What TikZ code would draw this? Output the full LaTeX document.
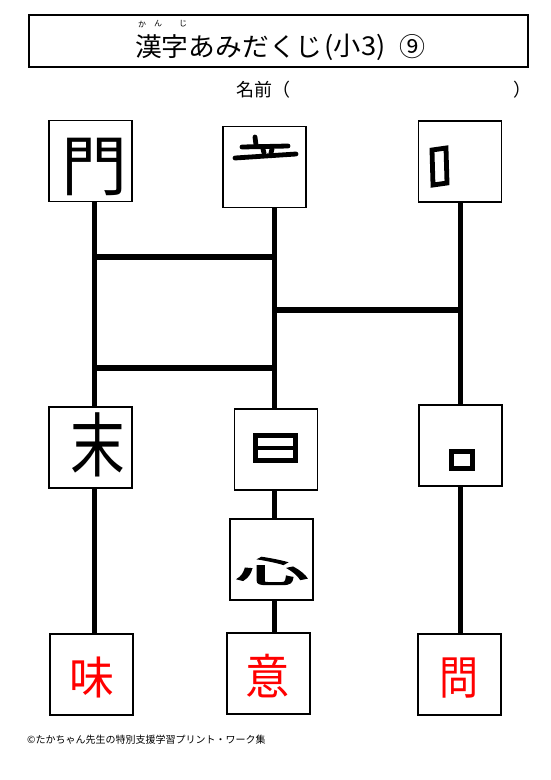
\documentclass[tikz,border=0pt]{standalone}
\usepackage{fontspec}
\setmainfont{Noto Sans CJK JP}
\newfontfamily\jp{Noto Sans CJK JP}
\newfontfamily\jpb[FakeBold=3.5]{Noto Sans CJK JP}
\begin{document}
\begin{tikzpicture}[x=1pt,y=-1pt,
  box/.style={draw, line width=1.3pt, minimum width=83pt, minimum height=81pt, inner sep=0pt},
  rail/.style={line width=5pt},
  rung/.style={line width=6pt},
  frag/.style={line width=4.8pt, line cap=round, line join=round},
  glyph/.style={inner sep=0pt, font=\jp},
  answer/.style={inner sep=0pt, text=red, font=\jp},
  ttl/.style={inner sep=0pt, font=\fontsize{26}{26}\selectfont},
  ruby/.style={inner sep=0pt, font=\fontsize{8}{8}\selectfont}]
\fill[white] (0,0) rectangle (551,780);
\useasboundingbox (0,0) rectangle (551,780);

% title
\node[draw, line width=1.3pt, minimum width=499pt, minimum height=52pt, inner sep=0pt] (titlebox) at (278.5,41) {};
\node[ttl, anchor=west] (title) at (135,47) {\scalebox{1.03}[1]{漢字あみだくじ}};
\node[ttl] (title2) at (355,47) {\scalebox{1.05}[1]{(小3)}};
\node[ttl] (title3) at (412,47) {⑨};
\node[ruby] (rk) at (142,24) {か};
\node[ruby] (rn) at (158,24) {ん};
\node[ruby] (rj) at (183,24) {じ};

% name line
\node[inner sep=0pt, anchor=west] (name) at (236,90) {\fontsize{18}{18}\selectfont 名前（};
\node[inner sep=0pt] (nameclose) at (522,90) {\fontsize{18}{18}\selectfont ）};

% boxes
\node[box] (mon)    at (90.5,161) {};
\node[box] (ritsu)  at (264.5,167) {};
\node[box] (kuchiA) at (460,161.5) {};
\node[box] (matsu)  at (90.5,447.5) {};
\node[box] (nichi)  at (276,449.5) {};
\node[box] (kuchiB) at (460.5,445.5) {};
\node[box] (kokoro) at (271.5,559.5) {};
\node[box] (aji)    at (91.5,674.5) {};
\node[box] (iu)     at (268.5,673.5) {};
\node[box] (mon2)   at (459.5,674.5) {};

% column coordinates
\coordinate (c1) at (94,0);
\coordinate (c2) at (274,0);
\coordinate (c3) at (460,0);

% rails
\draw[rail] (mon.south -| c1) -- (matsu.north -| c1);
\draw[rail] (matsu.south -| c1) -- (aji.north -| c1);
\draw[rail] (ritsu.south -| c2) -- (nichi.north -| c2);
\draw[rail] (nichi.south -| c2) -- (kokoro.north -| c2);
\draw[rail] (kokoro.south -| c2) -- (iu.north -| c2);
\draw[rail] (kuchiA.south -| c3) -- (kuchiB.north -| c3);
\draw[rail] (kuchiB.south -| c3) -- (mon2.north -| c3);

% rungs
\coordinate (r1a) at (94,257);  \coordinate (r1b) at (274,257);
\coordinate (r2a) at (274,310); \coordinate (r2b) at (460,310);
\coordinate (r3a) at (94,368);  \coordinate (r3b) at (274,368);
\draw[rung] (r1a) -- (r1b);
\draw[rung] (r2a) -- (r2b);
\draw[rung] (r3a) -- (r3b);

% component glyphs
\node[glyph] (gmon) at (94,167) {\fontsize{66}{66}\selectfont 門};
\node[glyph] (gmatsu) at (98,445) {\scalebox{0.78}[1]{\fontsize{70}{70}\selectfont 末}};
\node[glyph] (gkokoro) at (272,571) {\scalebox{1}[0.42]{\fontsize{72}{72}\jpb\selectfont 心}};

% top part of 立
\draw[frag] (255,137) -- (256,145);
\draw[frag] (242,147) -- (288,146);
\draw[frag] (263,149) -- (264,153);
\draw[frag] (272,149) -- (271,153);
\draw[frag] (235,158) -- (296,154);

% narrow 口 (top right)
\draw[frag, line cap=butt, line join=miter] (432,150) -- (446,148) -- (447,183) -- (433,185) -- cycle;
% flat 日
\draw[frag, line cap=butt, line join=miter] (255.5,435.5) rectangle (295.5,460.5);
\draw[frag, line cap=butt] (255.5,448) -- (295.5,448);
% small 口 (middle right)
\draw[frag, line cap=butt, line join=miter] (451.5,451.5) rectangle (472.5,468.5);

% answers
\node[answer] (tmi) at (92,677) {\fontsize{45}{45}\selectfont 味};
\node[answer] (ti)  at (268,676) {\scalebox{0.92}[1]{\fontsize{48}{48}\selectfont 意}};
\node[answer] (tmon) at (459,678) {\scalebox{0.85}[1]{\fontsize{46}{46}\selectfont 問}};

% footer
\node[inner sep=0pt, anchor=west] (footer) at (27,740) {\fontsize{10}{10}\selectfont ©たかちゃん先生の特別支援学習プリント・ワーク集};
\end{tikzpicture}
\end{document}
